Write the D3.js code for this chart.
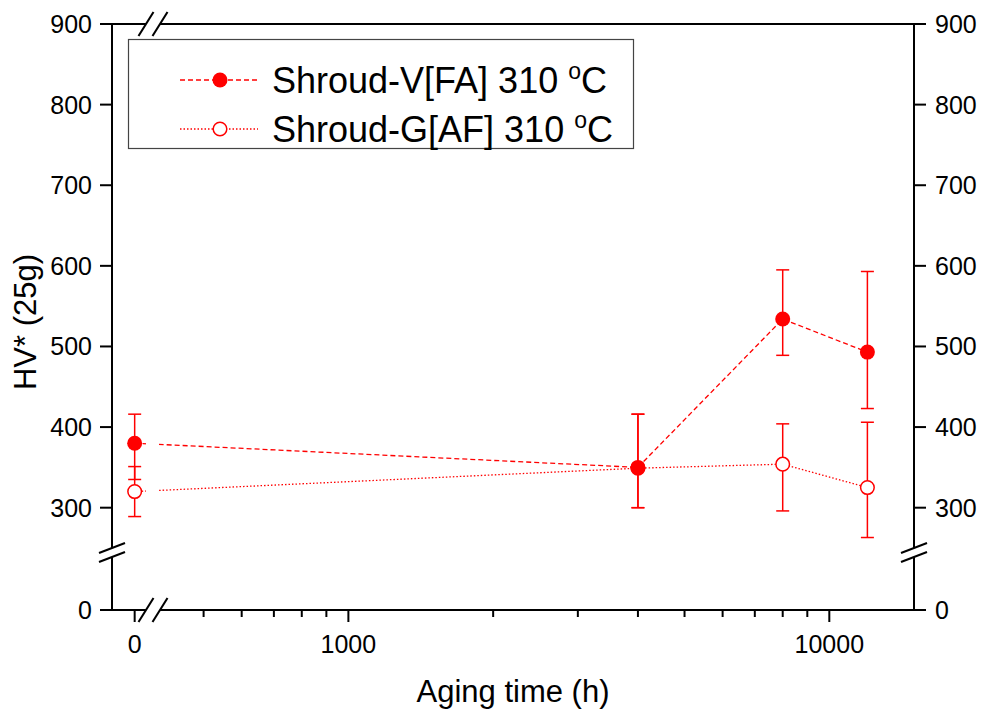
<!DOCTYPE html>
<html>
<head>
<meta charset="utf-8">
<script src="https://cdn.jsdelivr.net/npm/d3@7"></script>
<style>
  body { margin: 0; background: #fff; }
  svg { display: block; font-family: "Liberation Sans", Arial, sans-serif; }
</style>
</head>
<body>
<div id="chart"></div>
<script>
// data
const agingHours = [0, 4000, 8000, 12000];
const hvFA = [380, 350, 534, 493];
const hvFAHigh = [416, 416, 595, 593];
const hvFALow = [335, 300, 489, 423];
const hvAF = [320, 349, 354, 325];
const hvAFHigh = [351, 416, 404, 406];
const hvAFLow = [289, 300, 296, 263];

const yTicks = [0, 300, 400, 500, 600, 700, 800, 900];
const xMajorTicks = [0, 1000, 10000];
const xMinorTicks = [500, 600, 700, 800, 900, 2000, 3000, 4000, 5000, 6000, 7000, 8000, 9000];
const seriesNames = ["Shroud-V[FA] 310 ", "Shroud-G[AF] 310 "];

const width = 984, height = 709;
const plot = {left: 112, right: 914, top: 24, bottom: 610};
const xGap = [146, 160];   // where the x axis is broken
const yGap = [548, 557];   // where the y axis is broken
const red = "#ff0000";
const tickLen = 12, minorLen = 7;

const svg = d3.select("#chart").append("svg")
    .attr("width", width)
    .attr("height", height);

// broken scales: a short linear piece for 0, then a log piece
const xZero = d3.scaleLinear().domain([-1, 0.5]).range([plot.left, xGap[0]]);
const xLog = d3.scaleLog().domain([400, 15000]).range([157, plot.right]);
const x = v => v <= 0.5 ? xZero(v) : xLog(v);

const yUpper = d3.scaleLinear().domain([250, 900]).range([yGap[0], plot.top]);
const yLower = d3.scaleLinear().domain([0, 65]).range([plot.bottom, yGap[1]]);
const y = v => v >= 250 ? yUpper(v) : yLower(v);

// clip the connecting lines at the x break
const defs = svg.append("defs");
const clip = defs.append("clipPath").attr("id", "gapClip");
clip.append("rect").attr("x", 0).attr("y", 0).attr("width", xGap[0]).attr("height", height);
clip.append("rect").attr("x", xGap[1] - 1).attr("y", 0).attr("width", width).attr("height", height);

// axes frame
const axes = svg.append("g")
    .attr("stroke", "#000")
    .attr("stroke-width", 2)
    .attr("fill", "none");

// left and right, each in two pieces
[plot.left, plot.right].forEach(ax => {
    axes.append("line").attr("x1", ax).attr("x2", ax).attr("y1", plot.top - 1).attr("y2", yGap[0]);
    axes.append("line").attr("x1", ax).attr("x2", ax).attr("y1", yGap[1]).attr("y2", plot.bottom + 1);
    [yGap[0], yGap[1]].forEach(cy => {
        axes.append("line")
            .attr("x1", ax - 13).attr("y1", cy + 5)
            .attr("x2", ax + 13).attr("y2", cy - 5);
    });
});

// top and bottom, each in two pieces
[plot.top, plot.bottom].forEach(ay => {
    axes.append("line").attr("x1", plot.left).attr("x2", xGap[0]).attr("y1", ay).attr("y2", ay);
    axes.append("line").attr("x1", xGap[1]).attr("x2", plot.right).attr("y1", ay).attr("y2", ay);
    [xGap[0], xGap[1]].forEach(cx => {
        axes.append("line")
            .attr("x1", cx - 7.5).attr("y1", ay + 12)
            .attr("x2", cx + 7.5).attr("y2", ay - 12);
    });
});

// y ticks, both sides
axes.selectAll(".ytick-l")
    .data(yTicks)
    .join("line")
    .attr("x1", plot.left - tickLen).attr("x2", plot.left)
    .attr("y1", d => y(d)).attr("y2", d => y(d));

axes.selectAll(".ytick-r")
    .data(yTicks)
    .join("line")
    .attr("x1", plot.right).attr("x2", plot.right + tickLen)
    .attr("y1", d => y(d)).attr("y2", d => y(d));

// x ticks
axes.selectAll(".xtick")
    .data(xMajorTicks)
    .join("line")
    .attr("x1", d => x(d)).attr("x2", d => x(d))
    .attr("y1", plot.bottom).attr("y2", plot.bottom + tickLen);

axes.selectAll(".xminor")
    .data(xMinorTicks)
    .join("line")
    .attr("x1", d => x(d)).attr("x2", d => x(d))
    .attr("y1", plot.bottom).attr("y2", plot.bottom + minorLen);

// tick labels
const labels = svg.append("g")
    .attr("font-size", 25)
    .attr("fill", "#000");

labels.selectAll(".ylab-l")
    .data(yTicks)
    .join("text")
    .attr("x", plot.left - tickLen - 8)
    .attr("y", d => y(d))
    .attr("dy", "0.36em")
    .attr("text-anchor", "end")
    .text(d => d);

labels.selectAll(".ylab-r")
    .data(yTicks)
    .join("text")
    .attr("x", plot.right + tickLen + 9)
    .attr("y", d => y(d))
    .attr("dy", "0.36em")
    .attr("text-anchor", "start")
    .text(d => d);

labels.selectAll(".xlab")
    .data(xMajorTicks)
    .join("text")
    .attr("x", d => x(d))
    .attr("y", plot.bottom + 43)
    .attr("text-anchor", "middle")
    .text(d => d);

// axis titles
svg.append("text")
    .attr("font-size", 31)
    .attr("text-anchor", "middle")
    .attr("transform", "translate(36 322) rotate(-90)")
    .text("HV* (25g)");

svg.append("text")
    .attr("font-size", 31)
    .attr("text-anchor", "middle")
    .attr("x", 513)
    .attr("y", 702)
    .text("Aging time (h)");

// series
const series = [
    {name: seriesNames[0], v: hvFA, hi: hvFAHigh, lo: hvFALow, dash: "5,3", filled: true},
    {name: seriesNames[1], v: hvAF, hi: hvAFHigh, lo: hvAFLow, dash: "1.5,2", filled: false}
];

const line = d3.line()
    .x(d => x(d[0]))
    .y(d => y(d[1]));

const capW = 6.5;

// draw the open series first so the filled one sits on top
series.slice().reverse().forEach(s => {
    const pts = agingHours.map((t, i) => [t, s.v[i], s.lo[i], s.hi[i]]);
    const g = svg.append("g");

    g.append("path")
        .datum(pts)
        .attr("clip-path", "url(#gapClip)")
        .attr("fill", "none")
        .attr("stroke", red)
        .attr("stroke-width", 1.3)
        .attr("stroke-dasharray", s.dash)
        .attr("d", line);

    const eb = g.selectAll(".err")
        .data(pts)
        .join("g")
        .attr("stroke", red)
        .attr("stroke-width", 1.5);

    eb.append("line")
        .attr("x1", d => x(d[0])).attr("x2", d => x(d[0]))
        .attr("y1", d => y(d[2])).attr("y2", d => y(d[3]));
    eb.append("line")
        .attr("x1", d => x(d[0]) - capW).attr("x2", d => x(d[0]) + capW)
        .attr("y1", d => y(d[3])).attr("y2", d => y(d[3]));
    eb.append("line")
        .attr("x1", d => x(d[0]) - capW).attr("x2", d => x(d[0]) + capW)
        .attr("y1", d => y(d[2])).attr("y2", d => y(d[2]));

    g.selectAll(".pt")
        .data(pts)
        .join("circle")
        .attr("cx", d => x(d[0]))
        .attr("cy", d => y(d[1]))
        .attr("r", s.filled ? 7.5 : 6.8)
        .attr("fill", s.filled ? red : "#fff")
        .attr("stroke", red)
        .attr("stroke-width", s.filled ? 0 : 1.5);
});

// legend
const legend = svg.append("g");

legend.append("rect")
    .attr("x", 128.5).attr("y", 39.5)
    .attr("width", 505).attr("height", 109)
    .attr("fill", "#fff")
    .attr("stroke", "#444")
    .attr("stroke-width", 1.2);

const rowY = [80, 129];

series.forEach((s, i) => {
    legend.append("line")
        .attr("x1", 180).attr("x2", 258)
        .attr("y1", rowY[i]).attr("y2", rowY[i])
        .attr("stroke", red)
        .attr("stroke-width", 1.3)
        .attr("stroke-dasharray", s.dash);

    legend.append("circle")
        .attr("cx", 220).attr("cy", rowY[i])
        .attr("r", s.filled ? 7.5 : 6.8)
        .attr("fill", s.filled ? red : "#fff")
        .attr("stroke", red)
        .attr("stroke-width", s.filled ? 0 : 1.5);

    const t = legend.append("text")
        .attr("x", 272)
        .attr("y", rowY[i] + 13)
        .attr("font-size", 36);
    t.append("tspan").text(s.name);
    t.append("tspan").attr("font-size", 23).attr("dy", -14).text("o");
    t.append("tspan").attr("dy", 14).text("C");
});
</script>
</body>
</html>
